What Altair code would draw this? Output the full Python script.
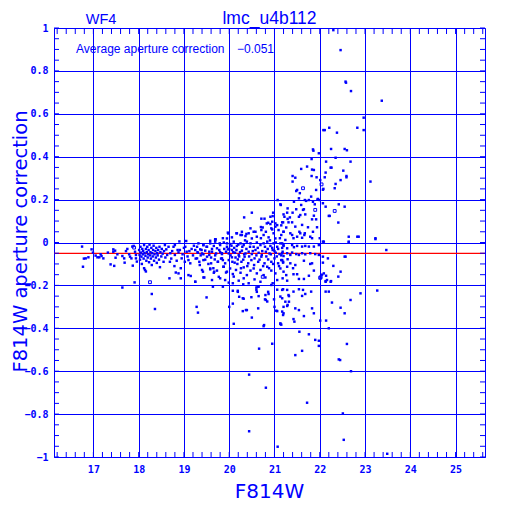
import altair as alt
import pandas as pd

BLUE = "#0000ff"
RED = "#ff0000"

chip_label = "WF4"
field_name = "lmc_u4b112"
avg_label = "Average aperture correction"
avg_corr = -0.051
x_title = "F814W"
y_title = "F814W aperture correction"

x_major = [17, 18, 19, 20, 21, 22, 23, 24, 25]
y_major = [1, 0.8, 0.6, 0.4, 0.2, 0, -0.2, -0.4, -0.6, -0.8, -1]
x_minor = [round(16.2 + 0.2 * i, 1) for i in range(48)]
y_minor = [round(-1 + 0.05 * i, 2) for i in range(41)]

# (magnitude, aperture correction), by region
bright = [
    (16.75, -0.019), (16.79, -0.075), (16.83, -0.074), (16.77, -0.113), (16.89, -0.069),
    (16.96, -0.032), (16.99, -0.047), (17.05, -0.061), (17.09, -0.069), (17.13, -0.069),
    (17.16, -0.055), (17.18, -0.063), (17.22, -0.074), (17.32, -0.047), (17.38, -0.102),
    (17.44, -0.032), (17.44, -0.043), (17.48, -0.038), (17.46, -0.109), (17.49, -0.071),
    (17.53, -0.055), (17.64, -0.063), (17.68, -0.074), (17.64, -0.21), (17.69, -0.094),
    (17.72, -0.040), (17.75, -0.030), (17.79, -0.055), (17.81, -0.066), (17.84, -0.074),
    (17.86, -0.019), (17.89, -0.016), (17.87, -0.108), (17.91, -0.186), (17.92, -0.043),
    (17.94, -0.058), (17.94, -0.074), (17.96, -0.089),
]
cluster18 = [
    (18.01, -0.035), (18.02, -0.058), (18.03, -0.08), (18.04, -0.02), (18.05, -0.047),
    (18.06, -0.066), (18.07, -0.1), (18.08, -0.03), (18.09, -0.055), (18.10, -0.04),
    (18.11, -0.075), (18.12, -0.012), (18.12, -0.12), (18.13, -0.05), (18.14, -0.128),
    (18.15, -0.062), (18.16, -0.03), (18.16, -0.135), (18.17, -0.085), (18.18, -0.045),
    (18.19, -0.02), (18.2, -0.07), (18.21, -0.055), (18.22, -0.035), (18.23, -0.092),
    (18.24, -0.01), (18.25, -0.06), (18.26, -0.045), (18.27, -0.075), (18.28, -0.025),
    (18.29, -0.24), (18.29, -0.105), (18.3, -0.05), (18.31, -0.065), (18.32, -0.035),
    (18.33, -0.015), (18.34, -0.085), (18.35, -0.055), (18.36, -0.31), (18.37, -0.04),
    (18.38, -0.07), (18.39, -0.025), (18.4, -0.095), (18.41, -0.05), (18.42, -0.06),
    (18.43, -0.035), (18.45, -0.08), (18.46, -0.02), (18.47, -0.115), (18.48, -0.045),
    (18.5, -0.065), (18.51, -0.03), (18.53, -0.052), (18.55, -0.09), (18.56, -0.04),
    (18.58, -0.012), (18.59, -0.07),
]
mid19 = [
    (18.61, -0.032), (18.63, -0.058), (18.66, -0.02), (18.68, -0.167), (18.69, -0.09),
    (18.7, -0.05), (18.72, -0.075), (18.74, -0.04), (18.77, -0.02), (18.79, -0.11),
    (18.8, -0.058), (18.8, -0.012), (18.82, -0.14), (18.84, -0.085), (18.86, -0.035),
    (18.88, -0.046), (18.88, -0.144), (18.9, 0.005), (18.91, -0.035), (18.93, -0.12),
    (18.93, -0.167), (18.95, -0.074), (18.97, -0.055), (19.0, -0.025), (19.02, -0.09),
    (19.03, -0.02), (19.05, 0.007), (19.06, -0.043), (19.08, -0.065), (19.1, -0.082),
    (19.1, -0.152), (19.12, -0.04), (19.14, -0.097), (19.15, -0.156), (19.17, -0.03),
    (19.2, -0.06), (19.22, -0.015), (19.25, -0.183), (19.26, -0.075), (19.28, -0.3),
    (19.3, -0.045), (19.31, -0.327), (19.32, -0.004), (19.35, -0.105), (19.37, -0.06),
    (19.39, -0.035), (19.42, -0.136), (19.43, -0.055), (19.45, -0.163), (19.47, -0.08),
    (19.5, -0.02), (19.5, -0.256), (19.54, -0.1), (19.56, -0.043), (19.58, -0.125),
    (19.6, -0.07), (19.62, -0.03), (19.64, -0.206), (19.65, -0.12), (19.67, -0.136),
    (19.69, -0.06), (19.7, 0.015), (19.73, -0.027), (19.75, -0.09), (19.77, -0.16),
    (19.79, -0.004), (19.8, -0.045), (19.82, -0.075), (19.84, -0.05), (19.86, -0.082),
    (19.86, -0.206), (19.86, 0.02), (19.87, -0.113), (19.89, -0.03), (19.91, -0.175),
    (19.93, -0.14), (19.95, -0.004), (19.97, -0.032), (19.98, 0.042),
]
dense20 = [
    (19.25, -0.035), (19.29, -0.02), (19.36, -0.032), (19.43, -0.012), (19.51, -0.02),
    (19.58, -0.004), (19.66, -0.016), (19.69, 0.004), (19.8, -0.012), (19.88, 0.0),
    (19.95, -0.02), (20.02, -0.007), (20.1, 0.004), (20.17, -0.016), (20.25, -0.004),
    (20.32, -0.012), (20.39, 0.004), (20.47, -0.004), (20.54, -0.02), (20.61, 0.0),
    (20.69, -0.012), (20.76, -0.004), (20.84, 0.004), (20.91, -0.016), (20.98, -0.004),
    (21.06, -0.02), (21.13, -0.004), (21.2, -0.012),
    (19.31, -0.048), (19.4, -0.051), (19.47, -0.038), (19.56, -0.058), (19.62, -0.043),
    (19.71, -0.051), (19.78, -0.035), (19.84, -0.054), (19.93, -0.043), (19.99, -0.051),
    (20.06, -0.035), (20.13, -0.048), (20.21, -0.058), (20.28, -0.038), (20.36, -0.051),
    (20.43, -0.043), (20.5, -0.054), (20.58, -0.035), (20.65, -0.048), (20.72, -0.058),
    (20.81, -0.043), (20.89, -0.051), (20.96, -0.035), (21.03, -0.048), (21.11, -0.054),
    (21.18, -0.043),
    (19.29, -0.074), (19.34, -0.09), (19.43, -0.082), (19.51, -0.066), (19.6, -0.097),
    (19.68, -0.079), (19.75, -0.09), (19.84, -0.074), (19.91, -0.097), (19.99, -0.082),
    (20.06, -0.069), (20.12, -0.094), (20.19, -0.079), (20.27, -0.09), (20.34, -0.066),
    (20.42, -0.097), (20.49, -0.082), (20.56, -0.074), (20.64, -0.09), (20.71, -0.066),
    (20.78, -0.097), (20.86, -0.079), (20.93, -0.09), (21.0, -0.074), (21.08, -0.097),
    (21.15, -0.082),
    (19.4, -0.128), (19.58, -0.121), (19.66, -0.141), (19.73, -0.131), (19.88, -0.113),
    (19.95, -0.136), (20.02, -0.121), (20.08, -0.147), (20.15, -0.128), (20.25, -0.141),
    (20.32, -0.116), (20.39, -0.152), (20.47, -0.131), (20.54, -0.121), (20.61, -0.144),
    (20.69, -0.128), (20.76, -0.152), (20.84, -0.113), (20.93, -0.131), (21.02, -0.144),
    (21.13, -0.121), (21.2, -0.136),
    (19.25, -0.183), (19.43, -0.163), (19.62, -0.175), (19.8, -0.167), (19.99, -0.187),
    (20.1, -0.159), (20.21, -0.178), (20.32, -0.167), (20.43, -0.19), (20.56, -0.172),
    (20.69, -0.183), (20.8, -0.163), (20.96, -0.19), (21.06, -0.175), (21.18, -0.167),
    (19.69, 0.012), (19.95, 0.019), (20.06, 0.024), (20.17, 0.043), (20.25, 0.035),
    (20.28, 0.05), (20.36, 0.03), (20.43, 0.043), (20.5, 0.019), (20.58, 0.05),
    (20.61, 0.027), (20.71, 0.058), (20.76, 0.035), (20.81, 0.05), (20.87, 0.024),
    (20.93, 0.066), (20.98, 0.043), (21.02, 0.019), (21.09, 0.058), (21.15, 0.035),
    (21.2, 0.05), (21.24, 0.012),
    (20.33, 0.117), (20.5, 0.139), (20.71, 0.111), (20.78, 0.111), (20.96, 0.123),
    (20.86, 0.092), (20.91, 0.086), (21.02, 0.089), (21.06, 0.081), (20.95, 0.061),
    (20.0, -0.03), (20.03, -0.06), (20.05, -0.015), (20.07, -0.09), (20.09, -0.045),
    (20.11, -0.025), (20.14, -0.07), (20.16, -0.035), (20.18, -0.1), (20.2, -0.01),
    (20.22, -0.065), (20.24, -0.045), (20.26, -0.12), (20.29, -0.02), (20.31, -0.08),
    (20.33, -0.055), (20.35, 0.01), (20.38, -0.03), (20.4, -0.11), (20.44, -0.065),
    (20.46, -0.02), (20.52, -0.04), (20.55, -0.105), (20.6, -0.06), (20.63, -0.025),
    (20.67, -0.08), (20.7, 0.02), (20.73, -0.04), (20.75, -0.11), (20.79, -0.02),
    (20.82, -0.065), (20.85, -0.03), (20.88, -0.12), (20.9, 0.01), (20.92, -0.055),
    (20.95, -0.025), (20.97, -0.1), (21.0, -0.04), (21.03, 0.0), (21.05, -0.065),
    (21.08, -0.03), (21.1, -0.11), (21.12, 0.02), (21.15, -0.06), (21.17, -0.025),
    (21.19, -0.09),
    (21.07, 0.198), (20.97, 0.139), (20.91, 0.12), (20.83, 0.089), (20.95, 0.097),
    (20.7, 0.072), (20.74, 0.07), (21.02, 0.074), (20.47, 0.066), (20.54, 0.05),
    (20.28, 0.035), (20.38, 0.04), (20.16, 0.043), (19.97, 0.046), (19.69, 0.015),
    (19.58, 0.008), (19.43, -0.012),
]
spread20 = [
    (20.08, -0.19), (20.31, -0.195), (20.63, -0.206), (20.65, -0.206), (20.08, -0.225),
    (20.19, -0.23), (20.22, -0.253), (20.08, -0.285), (20.0, -0.3), (20.32, -0.262),
    (20.49, -0.255), (20.37, -0.315), (20.3, -0.32), (20.61, -0.23), (20.6, -0.22),
    (20.65, -0.25), (20.8, -0.245), (20.79, -0.265), (20.64, -0.307), (20.5, -0.35),
    (20.1, -0.379), (20.77, -0.385), (20.86, -0.23), (20.87, -0.24), (20.93, -0.198),
    (20.99, -0.265), (21.04, -0.318), (21.13, -0.38), (21.15, -0.383), (21.06, -0.22),
    (21.17, -0.26), (21.19, -0.218), (21.32, -0.25), (21.32, -0.276), (21.2, -0.33),
    (21.28, -0.296), (20.95, -0.472), (20.66, -0.495), (20.44, -0.616), (20.81, -0.677),
    (20.44, -0.88), (21.07, -0.952), (20.6, -0.21), (20.81, -0.268), (20.84, -0.275),
    (20.19, -0.225), (20.3, -0.26), (20.39, -0.315), (21.0, -0.3), (21.06, -0.32),
    (21.2, -0.3), (20.76, -0.39),
]
upper22 = [
    (22.3, 0.99), (22.46, 0.897), (22.57, 0.75), (22.58, 0.745), (23.37, 0.661),
    (22.69, 0.706), (22.97, 0.582), (22.97, 0.524), (22.83, 0.535), (22.08, 0.524),
    (22.11, 0.524), (22.21, 0.535), (22.38, 0.512), (21.85, 0.434), (21.86, 0.428),
    (21.98, 0.416), (22.25, 0.436), (22.55, 0.436), (22.6, 0.43), (22.35, 0.395),
    (22.14, 0.377), (22.68, 0.377), (21.82, 0.389), (22.24, 0.349), (22.26, 0.349),
    (22.52, 0.335), (21.59, 0.343), (21.72, 0.354), (21.83, 0.34), (21.87, 0.338),
    (22.13, 0.326), (22.11, 0.304), (22.59, 0.31), (22.59, 0.304), (22.46, 0.291),
    (21.82, 0.31), (21.4, 0.31), (21.46, 0.302), (21.4, 0.284), (21.93, 0.304),
    (22.01, 0.291), (22.35, 0.273), (23.12, 0.284), (21.5, 0.245), (21.48, 0.24),
    (21.56, 0.23), (21.92, 0.245), (22.08, 0.25), (22.07, 0.246), (22.33, 0.253),
    (21.81, 0.214), (21.54, 0.206), (21.67, 0.198), (21.7, 0.194), (21.76, 0.198),
    (21.85, 0.19), (21.95, 0.2), (21.96, 0.203), (22.0, 0.198), (21.13, 0.178),
    (21.43, 0.19), (21.59, 0.175), (21.89, 0.178), (22.07, 0.183), (22.13, 0.167),
    (22.42, 0.178), (22.55, 0.167), (21.48, 0.155), (21.65, 0.155), (21.63, 0.152),
    (21.28, 0.139), (21.4, 0.139), (21.57, 0.128), (21.68, 0.131), (21.87, 0.125),
    (22.2, 0.124), (22.22, 0.124), (21.22, 0.12), (21.54, 0.12), (21.83, 0.108),
    (21.92, 0.108), (22.41, 0.093), (21.17, 0.094), (21.19, 0.094), (21.31, 0.094),
    (21.39, 0.094), (21.46, 0.074), (21.61, 0.082), (21.74, 0.071), (21.94, 0.071),
    (21.26, 0.07), (22.86, 0.027), (23.23, 0.016), (21.55, 0.05), (21.57, 0.043),
    (21.67, 0.043), (21.66, 0.035), (21.85, 0.05), (21.2, 0.05), (21.35, 0.043),
    (21.39, 0.035), (21.42, 0.02), (21.5, 0.027), (21.61, 0.022), (21.79, 0.027),
    (21.83, 0.02), (22.0, 0.02), (22.09, 0.004), (22.64, 0.0), (21.14, 0.175),
    (21.29, 0.159), (21.2, 0.131), (21.34, 0.117), (21.29, 0.11), (21.15, 0.08),
    (22.64, 0.027), (22.07, 0.004),
]
lower22 = [
    (21.17, -0.004), (21.2, -0.016), (21.28, -0.027), (21.39, -0.012), (21.43, -0.022),
    (21.5, -0.016), (21.61, -0.019), (21.68, -0.016), (21.76, -0.019), (21.87, -0.019),
    (21.98, -0.012), (22.64, 0.004),
    (21.17, -0.05), (21.2, -0.063), (21.28, -0.05), (21.35, -0.058), (21.39, -0.047),
    (21.48, -0.054), (21.54, -0.058), (21.61, -0.05), (21.68, -0.055), (21.79, -0.05),
    (21.9, -0.054), (21.98, -0.058), (22.07, -0.066), (22.18, -0.074), (22.55, -0.066),
    (21.17, -0.082), (21.19, -0.094), (21.29, -0.078), (21.35, -0.097), (21.46, -0.105),
    (21.65, -0.085), (21.79, -0.1), (21.83, -0.097), (22.07, -0.094), (22.3, -0.109),
    (21.28, -0.113), (21.41, -0.12),
    (21.87, -0.131), (22.09, -0.144), (21.26, -0.152), (21.42, -0.148), (21.5, -0.148),
    (21.54, -0.17), (21.65, -0.17), (21.76, -0.155), (22.14, -0.155), (22.16, -0.175),
    (22.13, -0.183), (22.24, -0.183), (22.46, -0.136), (22.41, -0.159), (21.28, -0.178),
    (21.17, -0.221), (21.28, -0.221), (21.42, -0.229), (21.54, -0.218), (21.63, -0.221),
    (21.61, -0.249), (21.68, -0.24), (21.81, -0.229), (22.13, -0.229), (22.2, -0.229),
    (22.9, -0.237), (23.27, -0.224),
    (21.31, -0.245), (21.13, -0.252), (21.24, -0.276), (21.29, -0.291), (21.46, -0.307),
    (21.54, -0.315), (21.83, -0.307), (21.87, -0.33), (22.27, -0.28), (22.46, -0.304),
    (22.68, -0.268), (22.55, -0.33),
    (21.17, -0.322), (21.19, -0.338), (21.42, -0.357), (21.44, -0.369), (21.65, -0.343),
    (22.01, -0.364), (22.14, -0.364), (21.13, -0.377),
    (21.55, -0.416), (21.76, -0.428), (21.9, -0.454), (21.98, -0.458), (22.2, -0.4),
    (22.6, -0.473), (21.98, -0.482),
    (21.61, -0.505), (21.46, -0.525), (22.42, -0.545), (22.45, -0.548), (22.69, -0.6),
    (21.72, -0.747), (22.51, -0.797), (22.53, -0.92), (23.49, -0.985),
    (22.57, -0.066), (22.05, -0.15), (22.13, -0.18), (22.25, -0.18), (23.47, -0.035),
    (23.23, 0.02), (22.83, 0.027),
]
hollow = [
    (18.25, -0.185), (17.9, -0.024), (20.74, -0.16), (22.01, -0.165), (22.02, -0.162),
    (21.63, 0.253), (22.04, 0.271), (21.9, 0.152), (22.33, 0.147),
]

filled = bright + cluster18 + mid19 + dense20 + spread20 + upper22 + lower22
df_filled = pd.DataFrame(filled, columns=["mag", "corr"])
df_hollow = pd.DataFrame(hollow, columns=["mag", "corr"])

W, H = 431, 429
TICK = 5

xscale = alt.Scale(domain=[16.13, 25.65], nice=False, zero=False)
yscale = alt.Scale(domain=[-1, 1], nice=False, zero=False)

x_axis = alt.Axis(
    values=x_major, grid=True, gridColor=BLUE, gridOpacity=1, gridWidth=1,
    ticks=False, domain=False, labelFont="DejaVu Sans Mono", labelFontWeight="bold",
    labelFontSize=10, labelColor=BLUE, labelPadding=7, labelFlush=False,
    format="d", title=None,
)
y_axis = alt.Axis(
    values=y_major, grid=True, gridColor=BLUE, gridOpacity=1, gridWidth=1,
    ticks=False, domain=False, labelFont="DejaVu Sans Mono", labelFontWeight="bold",
    labelFontSize=10, labelColor=BLUE, labelPadding=6, labelFlush=False,
    labelOverlap=False, format="~g", title=None,
)


def X():
    return alt.X("mag:Q", scale=xscale, axis=x_axis)


def Y():
    return alt.Y("corr:Q", scale=yscale, axis=y_axis)


df_xminor = pd.DataFrame({"mag": x_minor})
df_yminor = pd.DataFrame({"corr": y_minor})

bottom_ticks = alt.Chart(df_xminor).mark_rule(color=BLUE, strokeWidth=1).encode(
    x=X(), y=alt.value(H), y2=alt.value(H - TICK))
top_ticks = alt.Chart(df_xminor).mark_rule(color=BLUE, strokeWidth=1).encode(
    x=X(), y=alt.value(0), y2=alt.value(TICK + 1))
left_ticks = alt.Chart(df_yminor).mark_rule(color=BLUE, strokeWidth=1).encode(
    y=Y(), x=alt.value(0), x2=alt.value(TICK))
right_ticks = alt.Chart(df_yminor).mark_rule(color=BLUE, strokeWidth=1).encode(
    y=Y(), x=alt.value(W), x2=alt.value(W - TICK))

avg_line = alt.Chart(pd.DataFrame({"corr": [avg_corr]})).mark_rule(
    color=RED, strokeWidth=1.2).encode(y=Y())

points = alt.Chart(df_filled).mark_square(
    size=6, color=BLUE, opacity=1, filled=True, strokeWidth=0).encode(x=X(), y=Y())
points_hollow = alt.Chart(df_hollow).mark_square(
    size=8, color=BLUE, opacity=1, filled=False, strokeWidth=1).encode(x=X(), y=Y())


def label(text, x, y, size, font="Liberation Sans", align="left", angle=0):
    return alt.Chart(pd.DataFrame({"t": [text]})).mark_text(
        font=font, fontSize=size, color=BLUE, align=align, baseline="alphabetic",
        angle=angle).encode(text="t:N", x=alt.value(x), y=alt.value(y))


texts = [
    label(chip_label, 31.7, -4.5, 14.5),
    label(field_name, 215.5, -4, 17.5, align="center"),
    label(avg_label, 22, 24.5, 12),
    label("\u2212" + f"{abs(avg_corr):.3f}", 183, 24.5, 12),
    label(x_title, 215.5, 469.5, 20, font="DejaVu Sans", align="center"),
    label(y_title, -27.5, 213.5, 19.5, font="DejaVu Sans", align="center", angle=270),
]

chart = alt.layer(
    avg_line, bottom_ticks, top_ticks, left_ticks, right_ticks,
    points, points_hollow, *texts
).properties(
    width=W, height=H,
    padding={"left": 46, "top": 20, "right": 19, "bottom": 47},
    autosize=alt.AutoSizeParams(type="none"),
    background="white",
).configure_view(stroke=BLUE, strokeWidth=1)

chart.save("out.html", embed_options={"renderer": "svg", "actions": False})
